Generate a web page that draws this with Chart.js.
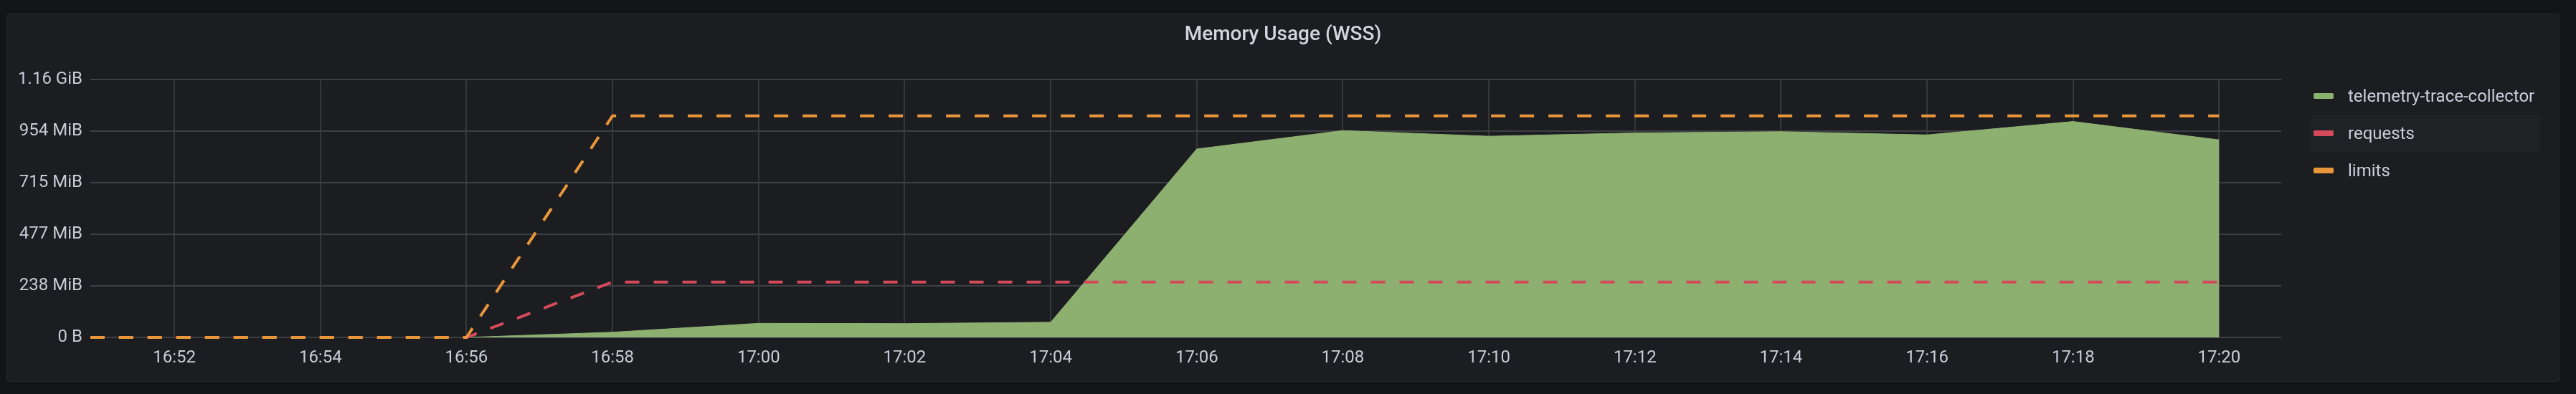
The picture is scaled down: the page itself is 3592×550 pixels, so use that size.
<!DOCTYPE html>
<html>
<head>
<meta charset="utf-8">
<script src="https://cdn.jsdelivr.net/npm/chart.js@4.4.0/dist/chart.umd.min.js"></script>
<style>
  html, body { margin: 0; padding: 0; background: #131416; }
  body { width: 3592px; height: 550px; position: relative; overflow: hidden; font-family: Roboto, "Noto Sans", sans-serif; }
  #panel {
    position: absolute; left: 9px; top: 19px; width: 3558px; height: 512px;
    background: #1c1d21; border: 1px solid #26272b; border-radius: 4px;
  }
  #grafico { position: absolute; left: 0; top: 0; }
  #titulo {
    position: absolute; left: 9px; width: 3560px; top: 33px; line-height: 28px;
    text-align: center; font-size: 28px; font-weight: 500; color: #d3d6de;
  }
  #leyenda { position: absolute; left: 3222px; top: 108px; width: 320px; }
  .fila { height: 52px; display: flex; align-items: center; font-size: 24px; color: #ccccdc; }
  .fila.activa { background: #202125; }
  .muestra { width: 28px; height: 8px; border-radius: 2px; margin-left: 4px; margin-right: 20px; }
</style>
</head>
<body>
<div id="panel"></div>
<canvas id="grafico" width="3592" height="550"></canvas>
<div id="titulo">Memory Usage (WSS)</div>
<div id="leyenda"></div>

<script>
// datos (MiB), un punto cada 2 minutos
const horas = ['16:50', '16:52', '16:54', '16:56', '16:58', '17:00', '17:02', '17:04',
               '17:06', '17:08', '17:10', '17:12', '17:14', '17:16', '17:18', '17:20'];
const collector = [null, null, null, 0, 24, 65, 64, 70, 871, 956, 930, 945, 951, 936, 998, 913];
const requests  = [0, 0, 0, 0, 256, 256, 256, 256, 256, 256, 256, 256, 256, 256, 256, 256];
const limits    = [0, 0, 0, 0, 1024, 1024, 1024, 1024, 1024, 1024, 1024, 1024, 1024, 1024, 1024, 1024];

const xTicks = ['16:52', '16:54', '16:56', '16:58', '17:00', '17:02', '17:04', '17:06',
                '17:08', '17:10', '17:12', '17:14', '17:16', '17:18', '17:20'];
const yTicks = ['0 B', '238 MiB', '477 MiB', '715 MiB', '954 MiB', '1.16 GiB'];

const nombres = ['telemetry-trace-collector', 'requests', 'limits'];
const colores = ['#8ab26f', '#d44a5a', '#e9963a'];

// minutos desde las 16:00
function aMin(h) {
  const p = h.split(':');
  return (+p[0] - 16) * 60 + (+p[1]);
}
function puntos(serie) {
  return horas.map((h, i) => ({ x: aMin(h), y: serie[i] }));
}
const pasoY = 250e6 / 1048576; // 250 MB en MiB

// leyenda
const ley = document.getElementById('leyenda');
nombres.forEach((n, i) => {
  const f = document.createElement('div');
  f.className = 'fila' + (i === 1 ? ' activa' : '');
  f.innerHTML = '<span class="muestra" style="background:' + colores[i] + '"></span>' + n;
  ley.appendChild(f);
});

const fuente = { family: 'Roboto', size: 24 };

new Chart(document.getElementById('grafico'), {
  type: 'line',
  data: {
    datasets: [
      {
        label: nombres[0],
        data: puntos(collector),
        borderColor: '#8db071',
        backgroundColor: '#8db071',
        borderWidth: 1,
        fill: 'origin',
        pointRadius: 0,
        order: 3
      },
      {
        label: nombres[1],
        data: puntos(requests),
        borderColor: colores[1],
        borderWidth: 4,
        borderDash: [20, 20],
        borderDashOffset: 33.7,
        fill: false,
        pointRadius: 0,
        order: 2,
        clip: { left: 0, top: 2, right: 2, bottom: 2 }
      },
      {
        label: nombres[2],
        data: puntos(limits),
        borderColor: colores[2],
        borderWidth: 4,
        borderDash: [20, 20],
        borderDashOffset: 33.7,
        fill: false,
        pointRadius: 0,
        order: 1,
        clip: { left: 0, top: 2, right: 2, bottom: 2 }
      }
    ]
  },
  options: {
    responsive: false,
    animation: false,
    devicePixelRatio: 1,
    layout: { padding: { top: 111, left: 0, right: 411, bottom: 0 } },
    plugins: {
      legend: { display: false },
      title: { display: false },
      tooltip: { enabled: false }
    },
    scales: {
      x: {
        type: 'linear',
        min: 50.85,
        max: 80.85,
        afterBuildTicks: (s) => { s.ticks = xTicks.map(t => ({ value: aMin(t) })); },
        afterFit: (s) => { s.height = 79; },
        ticks: {
          font: fuente,
          color: '#c8ccd6',
          padding: 15,
          maxRotation: 0,
          autoSkip: false,
          callback: (v, i) => xTicks[i]
        },
        grid: { color: '#36373b', lineWidth: 2, drawTicks: false },
        border: { display: false }
      },
      y: {
        min: 0,
        max: 5 * pasoY,
        afterBuildTicks: (s) => { s.ticks = yTicks.map((t, i) => ({ value: i * pasoY })); },
        afterFit: (s) => { s.width = 126; },
        ticks: {
          font: fuente,
          color: '#c8ccd6',
          padding: 11,
          autoSkip: false,
          callback: (v, i) => yTicks[i]
        },
        grid: { color: '#3e3f43', lineWidth: 2, drawTicks: false },
        border: { display: false }
      }
    }
  }
});
</script>
</body>
</html>
